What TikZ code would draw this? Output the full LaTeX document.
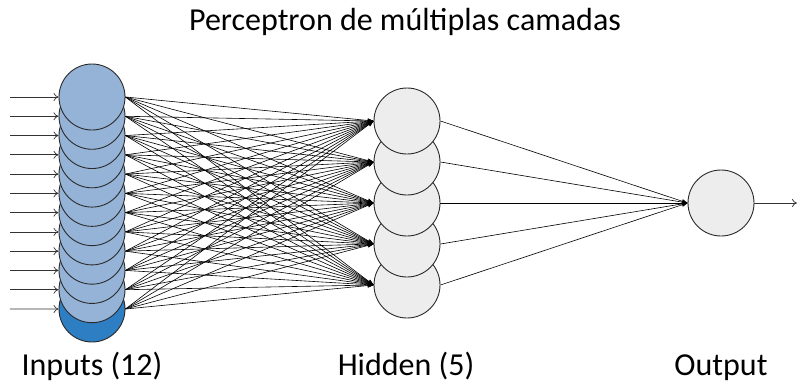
\documentclass[tikz,border=0pt]{standalone}
\usepackage{fontspec}
\setmainfont{Carlito}
\usetikzlibrary{arrows.meta}
\definecolor{inblue}{HTML}{95B3D7}
\definecolor{lastblue}{HTML}{2E7EC4}
\definecolor{hidgray}{HTML}{EDEDED}
\definecolor{rimgray}{HTML}{2B2B2B}

\begin{document}
\begin{tikzpicture}[x=1pt, y=-1pt,
  neuron/.style = {draw=rimgray, circle, line width=0.9pt, minimum size=66pt, inner sep=0pt},
  innode/.style = {neuron, fill=inblue},
  lastnode/.style = {neuron, fill=lastblue},
  hidnode/.style = {neuron, fill=hidgray},
  weight/.style = {line width=0.6pt, -{Stealth[length=6pt, width=4.5pt]}},
  feed/.style = {line width=0.7pt, draw=black!80, -{To[length=5pt, width=8pt]}},
  label/.style = {anchor=base, font=\fontsize{32}{38}\selectfont}]
  \useasboundingbox (0,0) rectangle (798,384);
        % input layer, drawn from the bottom up
        \node[lastnode] (in12) at (92, 309) {};
        \foreach \i in {11,...,1}
          \node[innode] (in\i) at (92, {97 + (\i-1)*19.27}) {};
        % hidden layer
        \foreach \j in {5,...,1}
          \node[hidnode] (hid\j) at (407, {121 + (\j-1)*41}) {};
        \node[hidnode] (out) at (721, 203) {};
        % inputs coming in
        \foreach \i in {1,...,12} {
          \coordinate (src\i) at (10, {97 + (\i-1)*19.27});
          \draw[feed] (src\i) -- (in\i.west);
        }
        \foreach \i in {1,...,12}
          \foreach \j in {1,...,5}
            \draw[weight] (in\i.east) -- (hid\j.west);
        \foreach \j in {1,...,5}
          \draw[weight] (hid\j.east) -- (out.west);
        \coordinate (sink) at (797, 203);
        \draw[feed] (out) -- (sink);
        % captions
        \node[anchor=base, font=\fontsize{32}{38}\selectfont] (title) at (405, 30) {Perceptron de múltiplas camadas};
        \node[label] (inlabel) at (92, 375) {Inputs (12)};
        \node[label] (hidlabel) at (406, 375) {Hidden (5)};
        \node[label] (outlabel) at (721, 375) {Output};
    \end{tikzpicture}
\end{document}
